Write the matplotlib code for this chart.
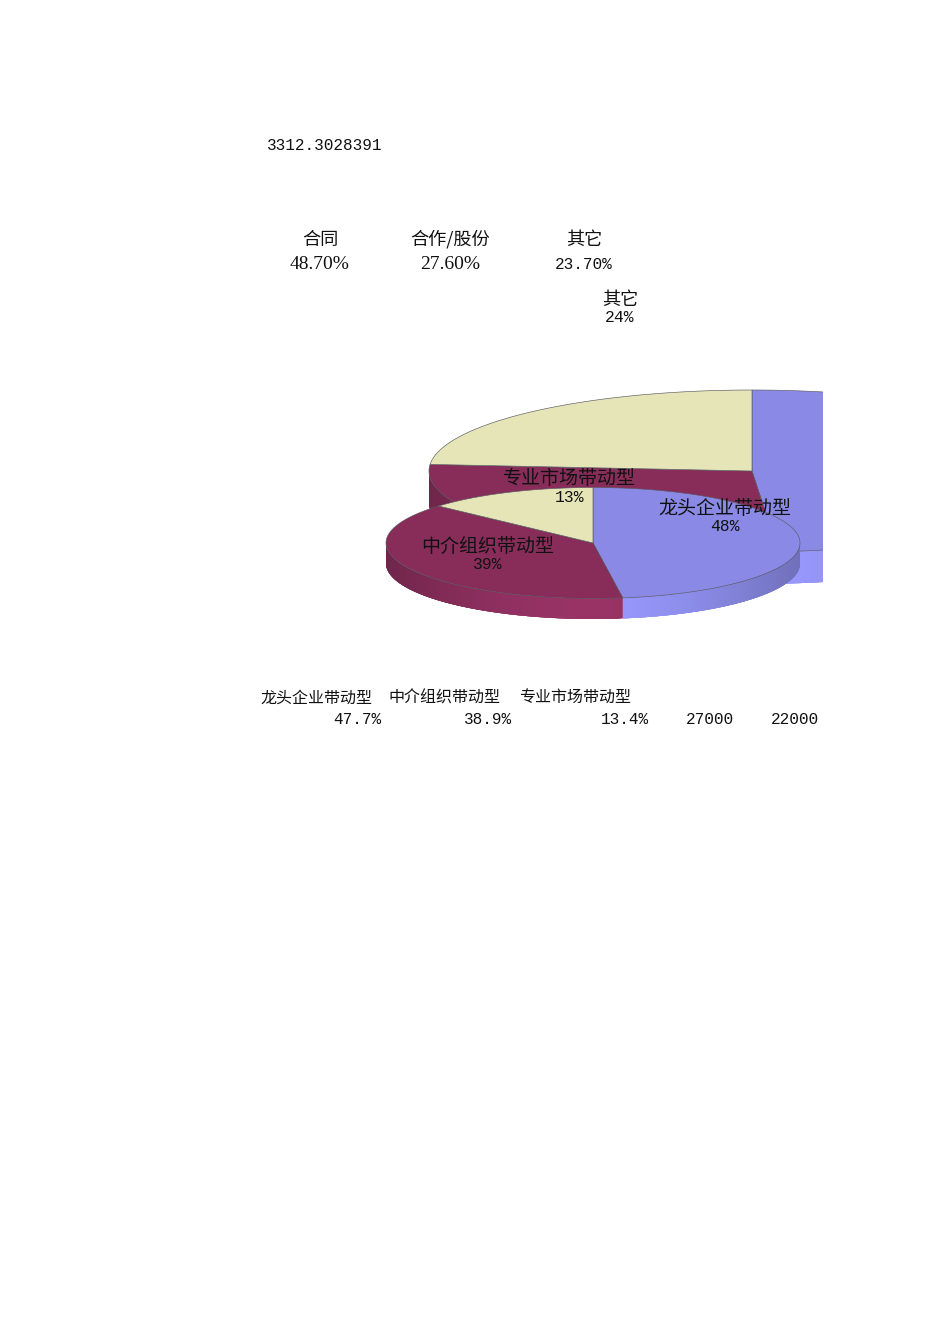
import numpy as np
import matplotlib
matplotlib.use("Agg")
import matplotlib.pyplot as plt
from matplotlib.collections import PolyCollection

# ---- data ----
front_names = ['龙头企业带动型', '中介组织带动型', '专业市场带动型']
front_shares = [47.7, 38.9, 13.4]
front_labels = ['48%', '39%', '13%']
back_shares = [48.7, 27.6, 23.7]
back_names = ['合同', '合作/股份', '其它']
back_cells = ['48.70%', '27.60%', '23.70%']
front_cells = ['47.7%', '38.9%', '13.4%']
extra_cells = ['27000', '22000']
stray_value = '3312.3028391'

# ---- styles ----
TOPS = ['#8A8AE6', '#882D5A', '#E5E5B7']
SIDES = ['#9999FF', '#993366', '#FFFFCC']
CJK = ['Noto Sans CJK SC', 'DejaVu Sans']
MONO = 'Liberation Mono'
SERIF = 'Liberation Serif'

W, H = 950, 1344
CLIP_X = 823
fig = plt.figure(figsize=(W / 100, H / 100), dpi=100, facecolor='white')
ax = fig.add_axes([0, 0, CLIP_X / W, 1])
ax.set_xlim(0, CLIP_X)
ax.set_ylim(H, 0)
ax.axis('off')


def ell(cx, cy, rx, ry, deg):
    t = np.radians(deg)
    return cx + rx * np.sin(t), cy - ry * np.cos(t)


def shade(hexcol, deg):
    rgb = np.array(matplotlib.colors.to_rgb(hexcol))
    f = 1 - 0.27 * abs(np.sin(np.radians(deg))) ** 1.6
    return tuple(rgb * f)


def pie3d(shares, cx, cy, rx, ry, depth, z):
    edges = np.concatenate([[0], np.cumsum(shares)]) / np.sum(shares) * 360
    # rim, only the near half of the ellipse shows; strips overlap so no seams appear
    for i in range(len(shares)):
        a0, a1 = max(edges[i], 90), min(edges[i + 1], 270)
        if a1 <= a0:
            continue
        steps = np.linspace(a0, a1, int(a1 - a0) * 2 + 2)
        quads, cols = [], []
        for k in range(len(steps) - 1):
            arc = np.linspace(steps[k], steps[min(k + 4, len(steps) - 1)], 5)
            xs, ys = ell(cx, cy, rx, ry, arc)
            quads.append(np.c_[np.r_[xs, xs[::-1]], np.r_[ys, ys[::-1] + depth]])
            cols.append(shade(SIDES[i], (steps[k] + steps[k + 1]) / 2))
        # draw toward the far end first so each strip's start stays visible
        ax.add_collection(PolyCollection(quads[::-1], facecolors=cols[::-1],
                                         edgecolors='none', zorder=z))
    # top face
    for i in range(len(shares)):
        deg = np.linspace(edges[i], edges[i + 1], 240)
        xs, ys = ell(cx, cy, rx, ry, deg)
        ax.fill(np.r_[cx, xs], np.r_[cy, ys], facecolor=TOPS[i], edgecolor='#5a5a62',
                linewidth=0.45, zorder=z + 1, joinstyle='round')


pie3d(back_shares, 752, 471, 323, 81, 32, 2)
pie3d(front_shares, 593, 543, 207, 55.5, 20.5, 4)


def put(x, y, s, font, size, ha='center'):
    ax.text(x, y, s, family=font, fontsize=size, ha=ha, va='center', color='#111111',
            zorder=10, clip_on=False)


put(267, 146, stray_value, MONO, 11.6, 'left')

for x, name in zip([320, 450, 584], back_names):
    put(x, 239.5, name, CJK, 13.1)
put(320, 264.5, back_cells[0], SERIF, 14)
put(450, 264.5, back_cells[1], SERIF, 14)
put(584, 264.5, back_cells[2], MONO, 11.6)

put(620, 299.5, back_names[2], CJK, 13.1)
put(620, 317, f'{back_shares[2]:.0f}%', MONO, 11.8)

label_xy = [(725, 507), (488, 545), (569.5, 478)]
for (x, y), name, lab in zip(label_xy, front_names, front_labels):
    put(x, y + 1, name, CJK, 13.7)
    put(x, y + 19.5, lab, MONO, 11.8)

for x, name in zip([316, 444, 575], front_names):
    put(x, 698, name, CJK, 11.5)
for x, val in zip([381.5, 512.5, 649, 734, 819], front_cells + extra_cells):
    put(x, 719, val, MONO, 11.6, 'right')

fig.savefig('out.png', dpi=100, facecolor='white')
